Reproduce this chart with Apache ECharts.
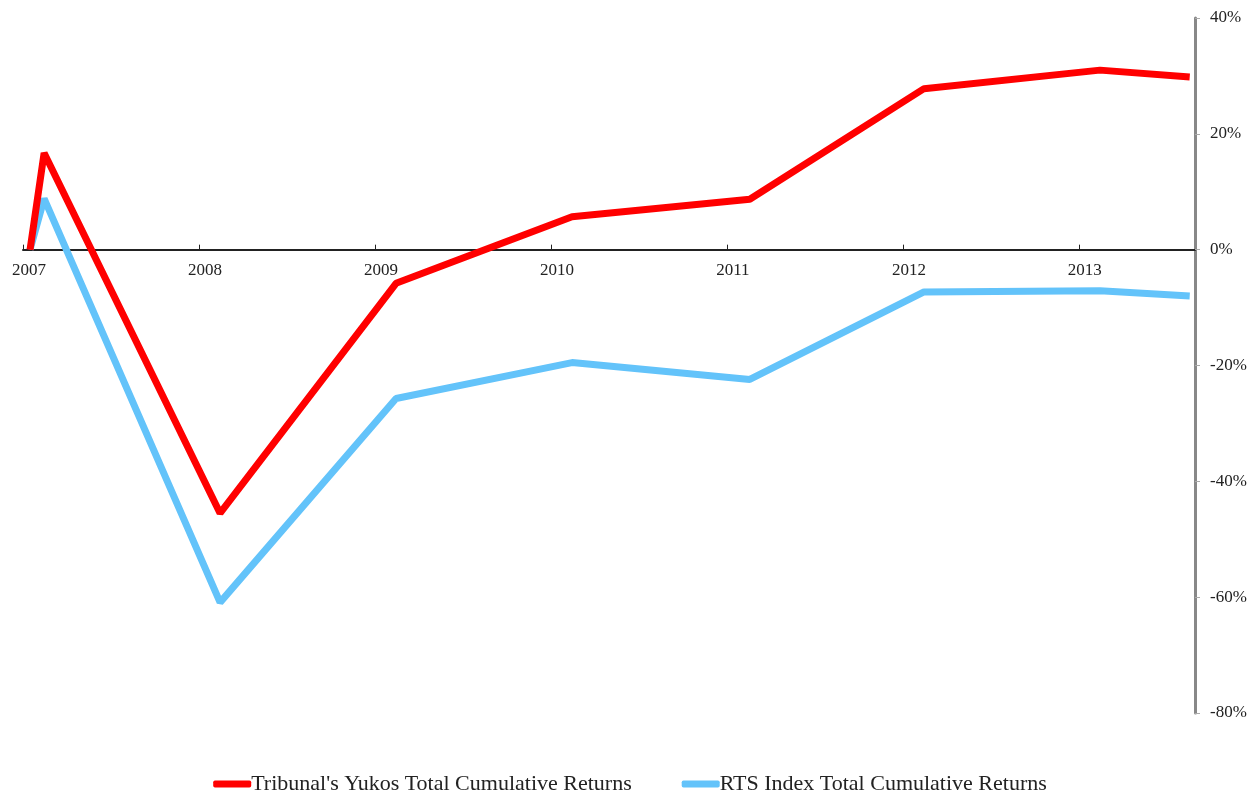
<!DOCTYPE html>
<html><head><meta charset="utf-8">
<script src="https://cdn.jsdelivr.net/npm/echarts@6/dist/echarts.min.js"></script>
<style>html,body{margin:0;padding:0;background:#fff}#c{width:1260px;height:796px}</style>
</head><body><div id="c"></div>
<script>
// decimal-year positions of observations
const dates = [2007.04, 2007.12, 2008.12, 2009.12, 2010.12, 2011.13, 2012.12, 2013.12, 2013.63];
const yukos = [0, 16.7, -45.5, -5.8, 5.7, 8.7, 27.8, 31.0, 29.8];
const rts   = [0, 8.8, -60.9, -25.7, -19.5, -22.4, -7.3, -7.1, -8.0];
const yearTicks = [2007, 2008, 2009, 2010, 2011, 2012, 2013];
const seriesNames = ["Tribunal's Yukos Total Cumulative Returns", "RTS Index Total Cumulative Returns"];

const font = 'Liberation Serif';
const chart = echarts.init(document.getElementById('c'));
const gridTop = 18, gridBottom = 83, H = 796;
const plotH = H - gridTop - gridBottom;
const yMin = -80, yMax = 40;
const zeroOffset = -(plotH * (0 - yMin) / (yMax - yMin));
chart.setOption({
  animation: false,
  grid: {left: 23, right: 65, top: gridTop, bottom: gridBottom, containLabel: false},
  xAxis: {
    type: 'value', min: 2007, max: 2013.66, interval: 1,
    offset: zeroOffset,
    axisLine: {onZero: false, lineStyle: {color: '#222', width: 2}},
    axisTick: {show: true, inside: true, length: 5, customValues: yearTicks, lineStyle: {color: '#222', width: 1}},
    axisLabel: {customValues: yearTicks, formatter: v => String(Math.round(v)), fontFamily: font, fontSize: 17, color: '#222', margin: 12, padding: [0,0,0,12]},
    splitLine: {show: false}
  },
  yAxis: {
    type: 'value', position: 'right', min: yMin, max: yMax, interval: 20,
    axisLine: {show: true, lineStyle: {color: '#888', width: 3}},
    axisTick: {show: true, length: 5, lineStyle: {color: '#aaa', width: 1}},
    axisLabel: {formatter: v => v + '%', fontFamily: font, fontSize: 17, color: '#222', margin: 15},
    splitLine: {show: false}
  },
  legend: {
    bottom: -4, left: 'center', itemWidth: 38, itemHeight: 7, itemGap: 50,
    icon: 'roundRect',
    textStyle: {fontFamily: font, fontSize: 22, color: '#222', padding: [0,0,0,-5]},
    data: seriesNames
  },
  series: [
    {name: seriesNames[0], type: 'line', data: dates.map((d,i)=>[d, yukos[i]]), showSymbol: false, symbol: 'none',
     lineStyle: {color: '#ff0000', width: 7}, itemStyle: {color: '#ff0000'}, z: 3},
    {name: seriesNames[1], type: 'line', data: dates.map((d,i)=>[d, rts[i]]), showSymbol: false, symbol: 'none',
     lineStyle: {color: '#63c3fa', width: 7}, itemStyle: {color: '#63c3fa'}, z: 2}
  ]
});
</script></body></html>
